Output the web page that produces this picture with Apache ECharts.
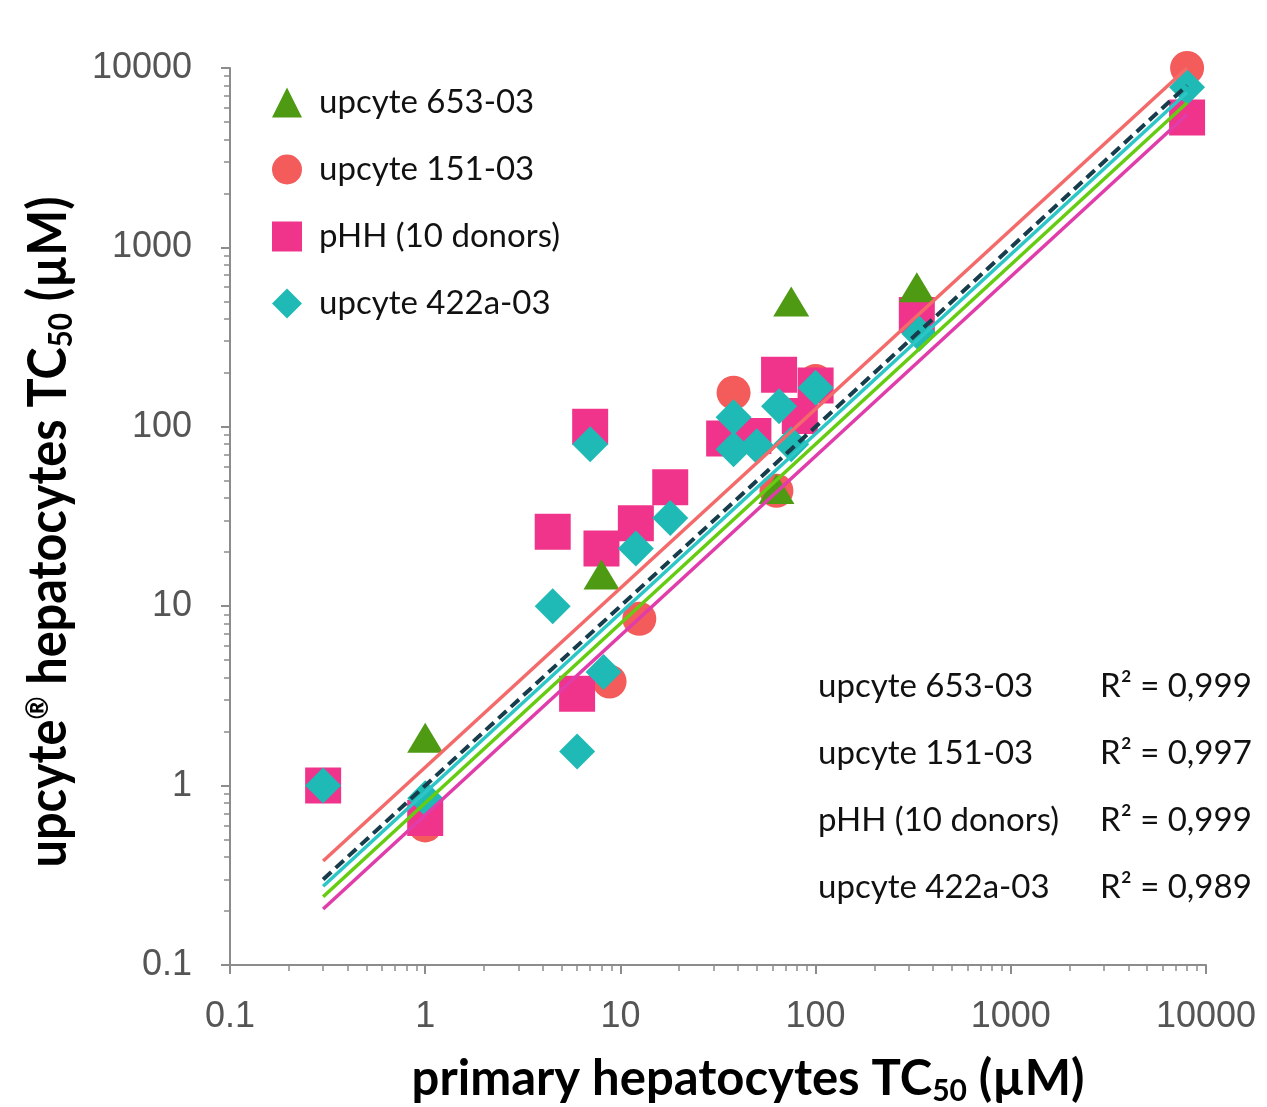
<!DOCTYPE html>
<html>
<head>
<meta charset="utf-8">
<title>TC50 upcyte vs primary hepatocytes</title>
<script src="https://cdn.jsdelivr.net/npm/echarts@6/dist/echarts.min.js"></script>
<style>
html, body { margin: 0; padding: 0; background: #fff; }
#chart { width: 1267px; height: 1107px; }
</style>
</head>
<body>
<div id="chart"></div>
<script>
// TC50 pairs [primary hepatocytes, upcyte hepatocytes] in µM
var upcyte653 = [[1, 1.85], [8, 15], [63, 45], [75, 500], [330, 600]];
var upcyte151 = [[1, 0.6], [8.8, 3.8], [12.5, 8.5], [38, 155], [63, 44], [100, 180], [330, 400], [8000, 10000]];
var pHH = [[0.3, 1], [1, 0.66], [4.5, 26], [6, 3.25], [7, 100], [8, 21], [12, 29], [18, 46],
  [34, 86], [48, 89], [65, 195], [83, 115], [100, 170], [330, 420], [8000, 5300]];
var upcyte422a = [[0.3, 1], [1, 0.85], [4.5, 10], [6, 1.55], [7, 80], [8.2, 4.3], [12, 21], [18, 31],
  [38, 113], [38, 75], [50, 78], [65, 130], [100, 165], [75, 80], [340, 330], [8000, 7800]];

// regression lines, end points
var fit151 = [[0.3, 0.38], [8000, 10000]];
var fitDashed = [[0.3, 0.3], [8000, 8000]];
var fit422a = [[0.3, 0.275], [8000, 7300]];
var fit653 = [[0.3, 0.24], [8000, 6400]];
var fitPHH = [[0.3, 0.205], [8000, 5500]];

var seriesNames = ['upcyte 653-03', 'upcyte 151-03', 'pHH (10 donors)', 'upcyte 422a-03'];
var r2Values = ['0,999', '0,997', '0,999', '0,989'];

var chart = echarts.init(document.getElementById('chart'));

var axisColor = '#8c8c8c';
var labelStyle = { color: '#555', fontSize: 36, fontFamily: 'Liberation Sans' };

function titleRich(size) {
  return {
    t: { fontSize: size, fontWeight: 'bold', fontFamily: 'Lato', color: '#000', lineHeight: size + 2, verticalAlign: 'top' },
    sub: { fontSize: Math.round(size * 0.62), fontWeight: 'bold', fontFamily: 'Lato', color: '#000', lineHeight: 20, verticalAlign: 'bottom' },
    sup: { fontSize: Math.round(size * 0.58), fontWeight: 'bold', fontFamily: 'Lato', color: '#000', lineHeight: 22, verticalAlign: 'top' }
  };
}

function fitLine(data, color, dashed) {
  return {
    type: 'line',
    data: data,
    showSymbol: false,
    silent: true,
    z: 5,
    lineStyle: { color: color, width: dashed ? 4 : 3.5, type: dashed ? [11, 6] : 'solid' }
  };
}

var texts = [];
seriesNames.forEach(function (n, i) {
  texts.push({
    type: 'text', left: 818, top: 670 + i * 67,
    style: { text: n, font: '33px Lato', fill: '#111' }
  });
  texts.push({
    type: 'text', left: 1100, top: 670 + i * 67,
    style: { text: 'R\u00b2 = ' + r2Values[i], font: '33px Lato', fill: '#111' }
  });
});
// y axis title, drawn narrow like the original condensed face
texts.push({
  type: 'text',
  x: 50,
  y: 532,
  rotation: Math.PI / 2,
  scaleX: 0.9,
  style: {
    text: '{t|upcyte}{sup|\u00ae}{t| hepatocytes TC}{sub|50}{t| (\u00b5M)}',
    rich: titleRich(54),
    align: 'center',
    verticalAlign: 'middle'
  }
});

var option = {
  backgroundColor: '#fff',
  animation: false,
  grid: { left: 230, right: 61, top: 68, bottom: 142, outerBoundsMode: 'none' },
  legend: {
    orient: 'vertical',
    left: 267,
    top: 81,
    itemWidth: 30,
    itemHeight: 30,
    itemGap: 34,
    textStyle: { fontSize: 33, fontFamily: 'Lato', color: '#111', padding: [0, 0, 0, 12] },
    data: [
      { name: seriesNames[0], icon: 'triangle' },
      { name: seriesNames[1], icon: 'circle' },
      { name: seriesNames[2], icon: 'rect' },
      { name: seriesNames[3], icon: 'diamond' }
    ]
  },
  xAxis: {
    type: 'log',
    logBase: 10,
    min: 0.1,
    max: 10000,
    name: '{t|primary hepatocytes TC}{sub|50}{t| (\u00b5M)}',
    nameLocation: 'middle',
    nameGap: 90,
    nameTextStyle: { rich: titleRich(49), padding: [0, 0, 0, 60] },
    axisLine: { lineStyle: { color: axisColor, width: 2 } },
    axisTick: { inside: false, length: 9, lineStyle: { color: axisColor, width: 2 } },
    minorTick: { show: true, splitNumber: 9, length: 6, lineStyle: { color: axisColor, width: 1.5 } },
    splitLine: { show: false },
    axisLabel: Object.assign({ margin: 34, formatter: function (v) { return String(v); } }, labelStyle)
  },
  yAxis: {
    type: 'log',
    logBase: 10,
    min: 0.1,
    max: 10000,
    axisLine: { lineStyle: { color: axisColor, width: 2 } },
    axisTick: { inside: false, length: 9, lineStyle: { color: axisColor, width: 2 } },
    minorTick: { show: true, splitNumber: 9, length: 6, lineStyle: { color: axisColor, width: 1.5 } },
    splitLine: { show: false },
    axisLabel: Object.assign({ margin: 38, formatter: function (v) { return String(v); } }, labelStyle)
  },
  graphic: texts,
  series: [
    {
      name: seriesNames[1], type: 'scatter', data: upcyte151, symbol: 'circle', symbolSize: 34,
      itemStyle: { color: '#f45b5b', opacity: 1 }, z: 2
    },
    {
      name: seriesNames[2], type: 'scatter', data: pHH, symbol: 'rect', symbolSize: 36,
      itemStyle: { color: '#f0348c', opacity: 1 }, z: 2
    },
    {
      name: seriesNames[0], type: 'scatter', data: upcyte653, symbol: 'triangle', symbolSize: [36, 30],
      itemStyle: { color: '#4e9a12', opacity: 1 }, z: 2
    },
    {
      name: seriesNames[3], type: 'scatter', data: upcyte422a, symbol: 'diamond', symbolSize: 36,
      itemStyle: { color: '#1fbab5', opacity: 1 }, z: 2
    },
    fitLine(fit151, '#f46a6a', false),
    fitLine(fitPHH, '#e03caa', false),
    fitLine(fit653, '#66cc11', false),
    fitLine(fit422a, '#2cc6c6', false),
    fitLine(fitDashed, '#173c4c', true)
  ]
};

chart.setOption(option);
</script>
</body>
</html>
